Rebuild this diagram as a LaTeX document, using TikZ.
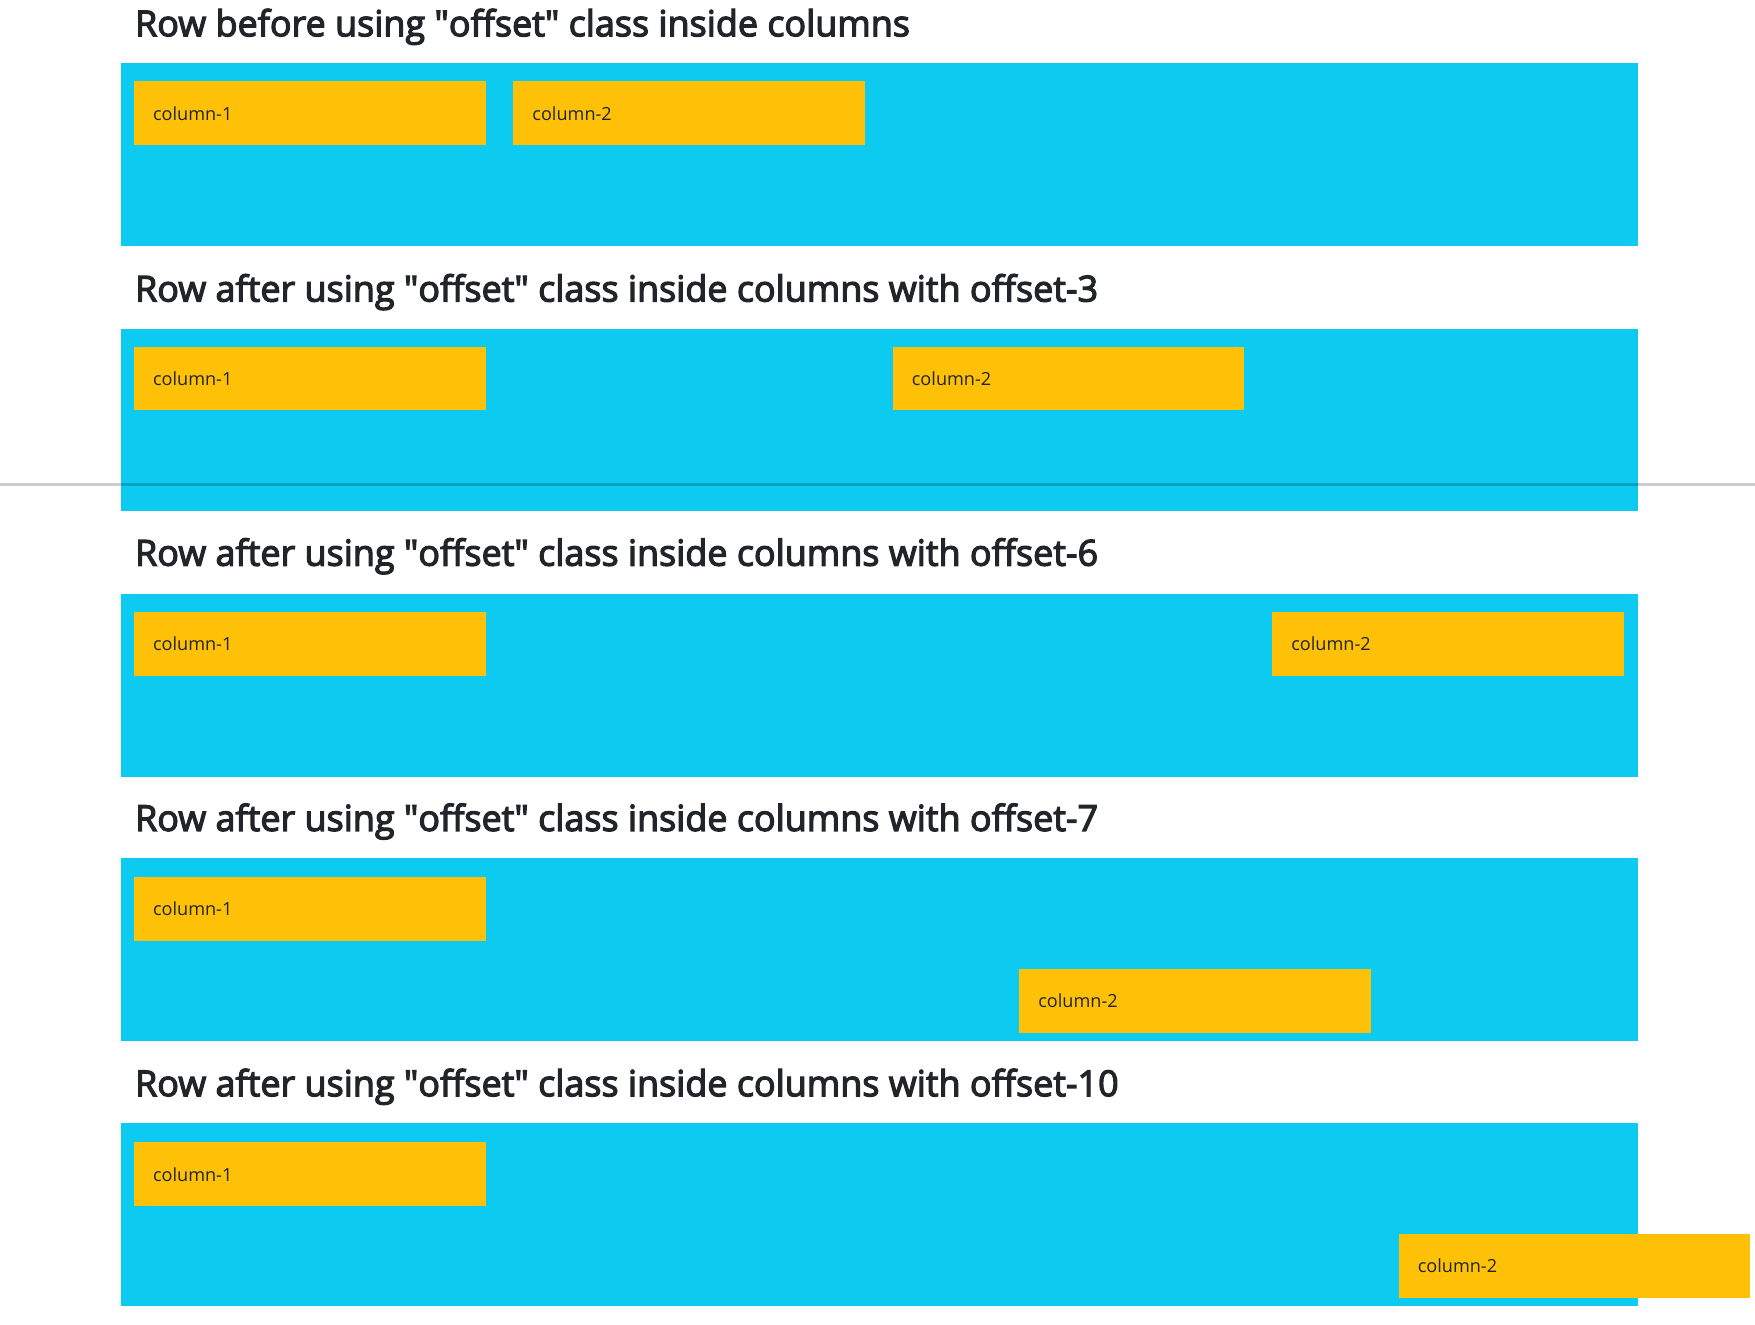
\documentclass[tikz,border=0pt]{standalone}
\usepackage{fontspec}
\setmainfont{Open Sans}
\definecolor{rowblue}{HTML}{0DCAF0}
\definecolor{colyellow}{HTML}{FFC107}
\definecolor{darktext}{HTML}{212529}
\newcommand{\dq}{\textquotedbl}
% heavier title strokes (between regular and bold)
\newcommand{\heavy}[1]{\special{pdf:literal direct 2 Tr 0.3 w}#1\special{pdf:literal direct 0 Tr}}
\tikzset{
  rowbox/.style={fill=rowblue,anchor=north west,inner sep=0pt,minimum width=13.55cm,minimum height=1.63cm},
  colbox/.style={fill=colyellow,anchor=north west,inner xsep=0.17cm,inner ysep=0pt,text width=2.80cm,align=left,minimum height=0.57cm,font=\fontsize{4.6}{5}\selectfont,text=darktext},
  rowtitle/.style={anchor=west,inner sep=0pt,font=\fontsize{9.13}{10}\selectfont,text=darktext}
}
\begin{document}
\begin{tikzpicture}[x=0.01cm,y=-0.01cm]
\useasboundingbox[fill=white] (0,0) rectangle (1568,1183);

% row 1
\node[rowtitle] (t1) at (120,24) {\heavy{Row before using \dq offset\dq{} class inside columns}};
\node[rowbox] (r1) at (107,56) {};
\node[colbox] (r1c1) at (119,72) {column-1};
\node[colbox] (r1c2) at (458,72) {column-2};

% row 2, offset-3
\node[rowtitle] (t2) at (120,261) {\heavy{Row after using \dq offset\dq{} class inside columns with offset-3}};
\node[rowbox] (r2) at (107,293) {};
\node[colbox] (r2c1) at (119,309) {column-1};
\node[colbox] (r2c2) at (797,309) {column-2};

% thin rule across the page
\draw[black,opacity=0.2,line width=0.6pt] (0,433) -- (1568,433);

% row 3, offset-6
\node[rowtitle] (t3) at (120,497) {\heavy{Row after using \dq offset\dq{} class inside columns with offset-6}};
\node[rowbox] (r3) at (107,530) {};
\node[colbox] (r3c1) at (119,546) {column-1};
\node[colbox] (r3c2) at (1136,546) {column-2};

% row 4, offset-7
\node[rowtitle] (t4) at (120,734) {\heavy{Row after using \dq offset\dq{} class inside columns with offset-7}};
\node[rowbox] (r4) at (107,766) {};
\node[colbox] (r4c1) at (119,783) {column-1};
\node[colbox] (r4c2) at (910,865) {column-2};

% row 5, offset-10
\node[rowtitle] (t5) at (120,971) {\heavy{Row after using \dq offset\dq{} class inside columns with offset-10}};
\node[rowbox] (r5) at (107,1003) {};
\node[colbox] (r5c1) at (119,1020) {column-1};
\node[colbox] (r5c2) at (1249,1102) {column-2};
\end{tikzpicture}
\end{document}
